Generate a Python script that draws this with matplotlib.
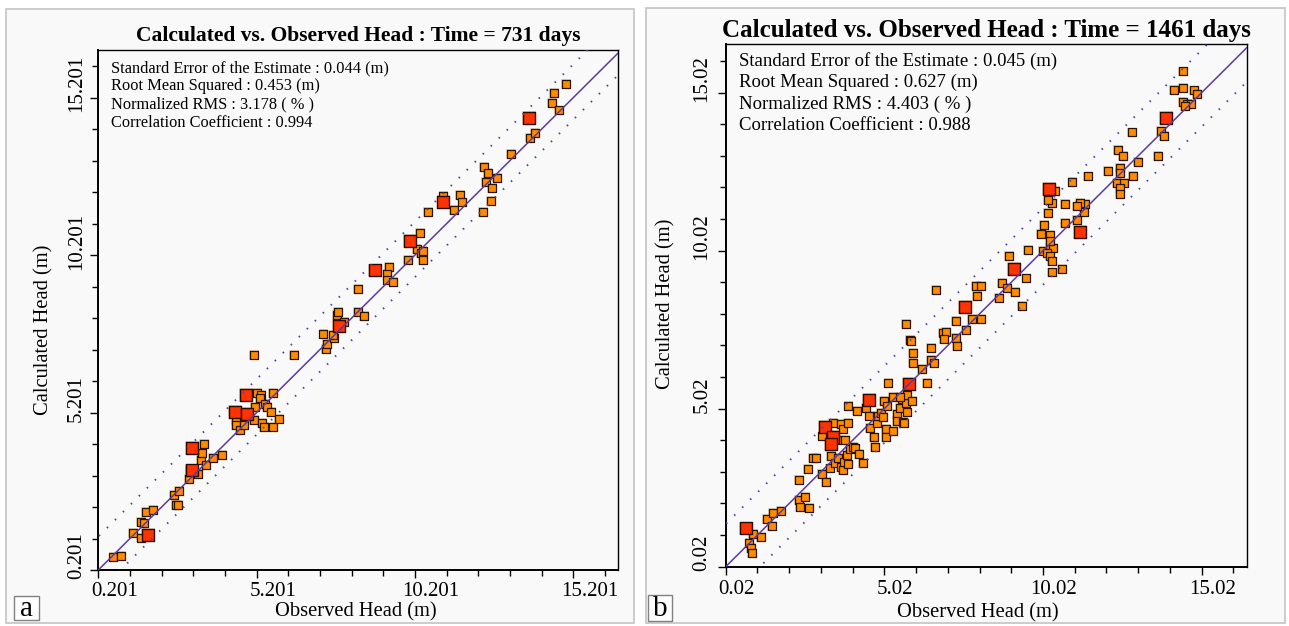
import matplotlib.pyplot as plt
from matplotlib.patches import Rectangle
from matplotlib.ticker import FixedLocator

plt.rcParams['font.family'] = ['Liberation Serif', 'DejaVu Serif']

# ---------------- panel a : time = 731 days ----------------
obs_731 = [0.68, 0.92, 1.29, 1.54, 1.54, 1.64, 1.70, 1.94, 2.60, 2.76, 2.65, 2.72,
           3.07, 3.10, 3.36, 3.44, 3.49, 3.55, 3.60, 3.81, 4.10, 4.54, 4.54, 4.68,
           4.80, 5.13, 6.37, 5.13, 5.16, 5.22, 5.33, 5.31, 5.36, 5.43, 5.46, 5.52,
           5.65, 5.71, 5.73, 5.91, 7.31, 7.38, 7.41, 7.65, 7.62, 7.75, 7.78, 7.96,
           8.39, 8.60, 8.41, 9.39, 9.33, 9.33, 9.52, 9.99, 10.25, 10.36, 10.38, 10.44,
           10.46, 10.62, 11.10, 11.43, 11.62, 11.70, 12.34, 12.39, 12.49, 12.44, 12.62, 12.80,
           12.59, 13.23, 13.83, 14.00, 14.52, 14.59, 14.75, 14.96]
calc_731 = [0.62, 0.65, 1.37, 1.23, 1.74, 1.68, 2.05, 2.11, 2.57, 2.71, 2.27, 2.26,
            3.10, 3.39, 3.26, 3.69, 3.90, 4.20, 3.53, 3.76, 3.84, 4.97, 4.81, 4.64,
            4.81, 7.03, 7.03, 4.96, 5.37, 5.82, 5.77, 5.66, 4.86, 4.75, 5.47, 5.37,
            5.21, 5.81, 4.75, 4.99, 7.69, 7.22, 7.38, 7.57, 7.66, 8.30, 8.40, 8.07,
            8.38, 8.27, 9.13, 9.83, 9.60, 9.41, 9.36, 10.05, 10.38, 10.91, 10.26, 10.33,
            10.05, 11.57, 12.08, 11.63, 12.10, 11.87, 11.57, 12.99, 12.80, 12.53, 12.32, 12.66,
            11.93, 13.41, 13.93, 14.09, 15.04, 15.34, 14.79, 15.62]
obs_731_red = [1.78, 3.15, 3.15, 4.52, 4.86, 4.91, 7.81, 8.94, 10.04, 11.10, 13.81]
calc_731_red = [1.31, 3.36, 4.07, 5.21, 5.76, 5.16, 7.96, 9.71, 10.65, 11.90, 14.56]
stats_731 = ["Standard Error of the Estimate : 0.044 (m)",
             "Root Mean Squared : 0.453 (m)",
             "Normalized RMS : 3.178 ( % )",
             "Correlation Coefficient : 0.994"]
band_731 = [1.06, -0.70]
ticks_731 = ["0.201", "5.201", "10.201", "15.201"]

# ---------------- panel b : time = 1461 days ----------------
obs_1461 = [0.89, 0.77, 0.81, 0.84, 1.12, 1.31, 1.47, 1.50, 1.76, 2.34, 2.36, 2.52,
            2.64, 2.34, 2.60, 2.78, 2.87, 3.06, 3.17, 3.07, 3.39, 3.35, 3.30, 3.46,
            3.52, 3.57, 3.65, 3.71, 3.65, 3.73, 3.75, 3.84, 3.86, 3.86, 3.78, 3.93,
            4.02, 3.89, 4.08, 4.16, 4.23, 4.36, 4.44, 4.55, 4.57, 4.70, 4.71, 4.78,
            4.83, 4.91, 4.97, 5.01, 5.07, 5.07, 5.15, 5.09, 5.30, 5.30, 5.41, 5.41,
            5.51, 5.59, 5.62, 5.65, 5.70, 5.72, 5.72, 5.50, 5.89, 5.70, 5.82, 5.87,
            5.93, 5.91, 6.22, 6.35, 6.48, 6.48, 6.58, 6.65, 6.86, 6.96, 6.91, 7.28,
            7.28, 7.30, 7.59, 7.78, 7.93, 8.06, 7.90, 8.06, 8.64, 8.72, 8.90, 9.13,
            9.50, 9.37, 8.94, 9.56, 9.95, 10.01, 10.24, 10.35, 10.16, 10.24, 10.29, 10.61,
            10.31, 10.24, 10.24, 10.05, 10.18, 10.72, 11.08, 11.31, 11.34, 11.19, 11.10, 10.72,
            10.29, 10.19, 10.40, 10.95, 11.45, 12.08, 12.45, 12.45, 12.85, 12.34, 12.57, 12.45,
            12.45, 12.39, 12.55, 13.00, 13.63, 12.82, 13.73, 13.83, 14.42, 14.57, 14.67, 14.49,
            14.16, 14.42, 14.78, 14.86, 14.42]
calc_1461 = [1.07, 0.76, 0.60, 0.46, 0.95, 1.52, 1.31, 1.71, 1.78, 2.13, 1.92, 2.24,
             1.87, 2.76, 3.10, 3.45, 3.47, 2.95, 2.69, 4.17, 4.56, 3.53, 3.13, 3.29,
             4.03, 3.47, 4.53, 4.37, 3.18, 3.08, 3.34, 3.55, 4.56, 3.27, 4.03, 3.73,
             3.82, 5.10, 3.79, 4.96, 3.58, 3.29, 5.05, 4.79, 4.40, 4.11, 3.80, 4.56,
             4.79, 4.89, 4.77, 5.27, 4.37, 4.11, 5.84, 5.11, 5.38, 4.32, 4.84, 4.64,
             5.03, 5.32, 4.61, 4.56, 5.19, 4.92, 5.45, 5.40, 5.27, 7.69, 7.19, 7.15,
             6.77, 6.48, 6.27, 5.82, 6.95, 6.56, 6.45, 8.77, 7.43, 7.46, 7.22, 7.80,
             7.25, 7.00, 7.51, 7.85, 8.59, 7.87, 8.90, 8.90, 8.51, 9.01, 8.83, 8.71,
             9.14, 8.28, 9.85, 10.04, 10.55, 10.02, 10.10, 10.10, 9.94, 9.85, 9.70, 9.45,
             9.33, 10.52, 10.34, 10.84, 11.20, 10.89, 10.99, 11.23, 11.49, 11.52, 11.42, 11.50,
             11.52, 11.63, 11.91, 12.19, 12.37, 12.54, 12.65, 12.49, 12.39, 12.15, 12.15, 11.99,
             11.82, 13.21, 13.02, 12.84, 13.02, 13.76, 13.81, 13.65, 14.72, 14.65, 14.66, 14.60,
             15.11, 15.16, 15.09, 14.97, 15.69]
obs_1461_red = [0.66, 3.15, 3.39, 3.35, 4.55, 5.80, 7.56, 9.11, 10.21, 11.19, 13.90]
calc_1461_red = [1.23, 4.43, 4.13, 3.89, 5.29, 5.79, 8.25, 9.43, 11.96, 10.60, 14.23]
stats_1461 = ["Standard Error of the Estimate : 0.045 (m)",
              "Root Mean Squared : 0.627 (m)",
              "Normalized RMS : 4.403 ( % )",
              "Correlation Coefficient : 0.988"]
band_1461 = [1.35, -1.08]
ticks_1461 = ["0.02", "5.02", "10.02", "15.02"]

W, H = 1289, 626
fig = plt.figure(figsize=(W / 100, H / 100), dpi=100)
fig.patch.set_facecolor('white')


def fx(px):
    return px / W


def fy(py):
    # pixel measured from the top -> figure fraction
    return 1 - py / H


def panel(frame, axbox, base, lims, obs, calc, obs_r, calc_r, band, ticklabels,
          title, title_y, title_fs, stats, stats_fs, stats_top, stats_dy,
          xlab, ylab, letter, letter_box, tick_fs, lab_shift):
    # grey frame of the panel
    x0, y0, x1, y1 = frame
    fig.add_artist(Rectangle((fx(x0), fy(y1)), fx(x1 - x0), (y1 - y0) / H,
                             transform=fig.transFigure, facecolor='#f9f9f9',
                             edgecolor='#c4c4c4', lw=1.2, zorder=-5))

    l, t, r, b = axbox
    ax = fig.add_axes([fx(l), fy(b), fx(r - l), (b - t) / H])
    ax.set_facecolor('#f9f9f9')
    ax.set_xlim(base, lims[0])
    ax.set_ylim(base, lims[1])

    hi = max(lims)
    ax.plot([base, hi], [base, hi], color='#5a3aa6', lw=1.1, zorder=5)
    for off in band:
        ax.plot([base - 2, hi + 2], [base - 2 + off, hi + 2 + off], color='#4a48b0',
                lw=1.4, linestyle=(0, (0.8, 5.0)), zorder=5)

    # soft brownish halo round the squares, then the squares themselves
    ax.scatter(obs, calc, s=50, marker='s', facecolor='#c9a47a', edgecolor='none',
               alpha=0.45, zorder=2)
    ax.scatter(obs_r, calc_r, s=100, marker='s', facecolor='#c9a47a',
               edgecolor='none', alpha=0.45, zorder=2)
    ax.scatter(obs, calc, s=28, marker='s', facecolor='#ff8c00',
               edgecolor='#2a1400', linewidth=0.9, zorder=3)
    ax.scatter(obs_r, calc_r, s=68, marker='s', facecolor='#ff3300',
               edgecolor='#2a0a00', linewidth=1.0, zorder=4)

    major = [base + 5 * i for i in range(4)]
    ax.xaxis.set_major_locator(FixedLocator(major))
    ax.yaxis.set_major_locator(FixedLocator(major))
    ax.xaxis.set_minor_locator(FixedLocator([base + i for i in range(17)]))
    ax.yaxis.set_minor_locator(FixedLocator([base + i for i in range(17)]))
    ax.tick_params(which='major', direction='out', length=6, width=1.0,
                   labelbottom=False, labelleft=False)
    ax.tick_params(which='minor', direction='out', length=4, width=1.0)
    for sp in ax.spines.values():
        sp.set_linewidth(1.4)
    ax.spines['top'].set_linewidth(1.0)
    ax.spines['right'].set_linewidth(1.0)

    # tick labels, shifted along the axis like in the original software
    sx, dist = lab_shift
    for v, s in zip(major, ticklabels):
        ax.annotate(s, xy=(v, 0), xycoords=('data', 'axes fraction'),
                    xytext=(sx, -dist[0]), textcoords='offset pixels',
                    ha='center', va='center', fontsize=tick_fs)
        ax.annotate(s, xy=(0, v), xycoords=('axes fraction', 'data'),
                    xytext=(-dist[1], 14), textcoords='offset pixels',
                    ha='center', va='center', fontsize=tick_fs, rotation=90)

    fig.text(fx((l + r) / 2), fy(title_y), title, ha='center', va='center',
             fontsize=title_fs, fontweight='bold')
    for i, s in enumerate(stats):
        ax.text(0.025, 1 - (stats_top + i * stats_dy) / (b - t), s,
                transform=ax.transAxes, ha='left', va='center', fontsize=stats_fs)

    fig.text(fx(xlab[0]), fy(xlab[1]), "Observed Head (m)", ha='center',
             va='center', fontsize=14.8)
    fig.text(fx(ylab[0]), fy(ylab[1]), "Calculated Head (m)", ha='center',
             va='center', fontsize=14.8, rotation=90)

    bx0, by0, bx1, by1 = letter_box
    fig.add_artist(Rectangle((fx(bx0), fy(by1)), fx(bx1 - bx0), (by1 - by0) / H,
                             transform=fig.transFigure, facecolor='white',
                             edgecolor='#808080', lw=1.0, zorder=2))
    fig.text(fx((bx0 + bx1) / 2), fy((by0 + by1) / 2 + 1), letter, ha='center',
             va='center', fontsize=21)
    return ax


panel(frame=(6, 9, 634, 623), axbox=(98.3, 50, 618.3, 570), base=0.201,
      lims=(16.62, 16.71), obs=obs_731, calc=calc_731, obs_r=obs_731_red,
      calc_r=calc_731_red, band=band_731, ticklabels=ticks_731,
      title="Calculated vs. Observed Head : Time = 731 days", title_y=36,
      title_fs=15.5, stats=stats_731, stats_fs=11.8, stats_top=18, stats_dy=18.3,
      xlab=(356, 612), ylab=(44, 330), letter='a', letter_box=(14, 596, 39, 620),
      tick_fs=15, lab_shift=(16, (22, 22)))

panel(frame=(646, 8, 1285, 623), axbox=(725.7, 44, 1247.3, 566.7), base=0.02,
      lims=(16.46, 16.56), obs=obs_1461, calc=calc_1461, obs_r=obs_1461_red,
      calc_r=calc_1461_red, band=band_1461, ticklabels=ticks_1461,
      title="Calculated vs. Observed Head : Time = 1461 days", title_y=30,
      title_fs=18, stats=stats_1461, stats_fs=13.5, stats_top=17, stats_dy=21.5,
      xlab=(978, 613), ylab=(666, 304), letter='b', letter_box=(648, 595, 672, 621),
      tick_fs=15, lab_shift=(11, (23, 24)))

fig.savefig('out.png', dpi=100, facecolor='white')
